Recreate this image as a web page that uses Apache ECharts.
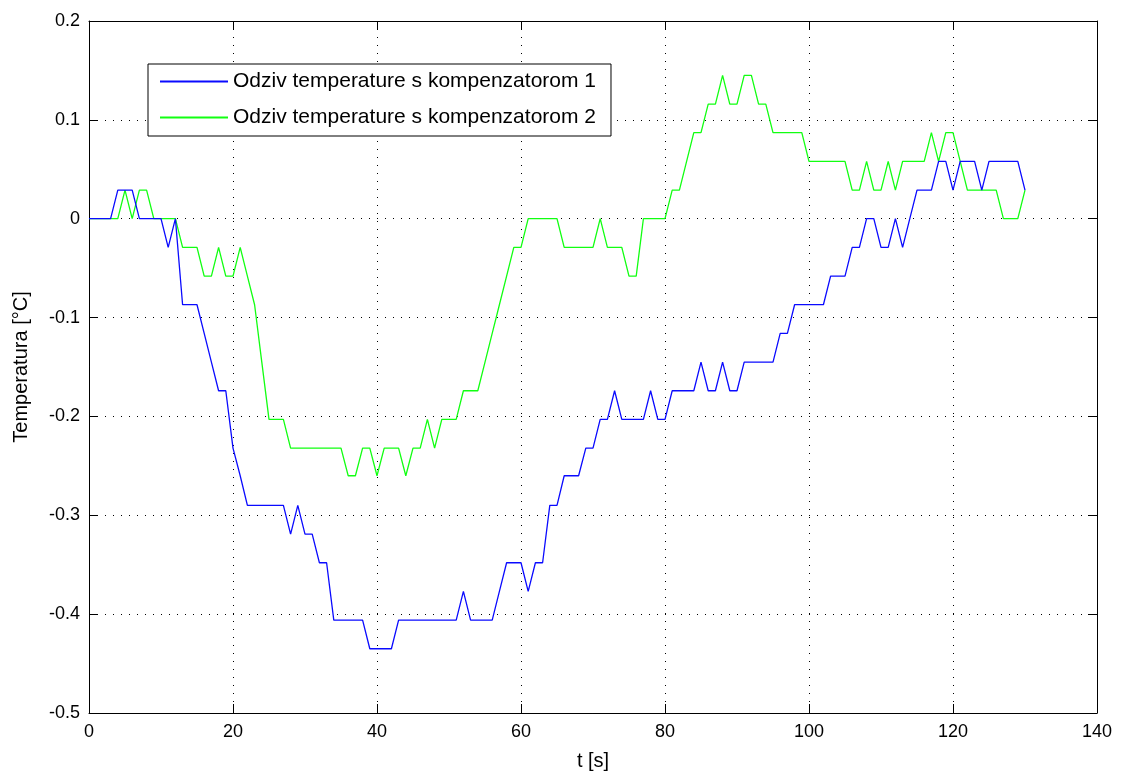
<!DOCTYPE html>
<html>
<head>
<meta charset="utf-8">
<script src="https://cdn.jsdelivr.net/npm/echarts@6/dist/echarts.min.js"></script>
<style>html,body{margin:0;padding:0;background:#fff;}#c{width:1123px;height:776px;}</style>
</head>
<body>
<div id="c"></div>
<script>
const timeS = [0,1,2,3,4,5,6,7,8,9,10,11,12,13,14,15,16,17,18,19,20,21,22,23,24,25,26,27,28,29,30,31,32,33,34,35,36,37,38,39,40,41,42,43,44,45,46,47,48,49,50,51,52,53,54,55,56,57,58,59,60,61,62,63,64,65,66,67,68,69,70,71,72,73,74,75,76,77,78,79,80,81,82,83,84,85,86,87,88,89,90,91,92,93,94,95,96,97,98,99,100,101,102,103,104,105,106,107,108,109,110,111,112,113,114,115,116,117,118,119,120,121,122,123,124,125,126,127,128,129,130];

const komp1 = [0,0,0,0,0.029,0.029,0.029,0,0,0,0,-0.029,0,-0.087,-0.087,-0.087,-0.116,-0.145,-0.174,-0.174,
  -0.232,-0.26,-0.29,-0.29,-0.29,-0.29,-0.29,-0.29,-0.319,-0.29,-0.319,-0.319,-0.348,-0.348,-0.406,-0.406,-0.406,-0.406,-0.406,-0.435,
  -0.435,-0.435,-0.435,-0.406,-0.406,-0.406,-0.406,-0.406,-0.406,-0.406,-0.406,-0.406,-0.377,-0.406,-0.406,-0.406,-0.406,-0.377,-0.348,-0.348,
  -0.348,-0.377,-0.348,-0.348,-0.29,-0.29,-0.26,-0.26,-0.26,-0.232,-0.232,-0.203,-0.203,-0.174,-0.203,-0.203,-0.203,-0.203,-0.174,-0.203,
  -0.203,-0.174,-0.174,-0.174,-0.174,-0.145,-0.174,-0.174,-0.145,-0.174,-0.174,-0.145,-0.145,-0.145,-0.145,-0.145,-0.116,-0.116,-0.087,-0.087,
  -0.087,-0.087,-0.087,-0.058,-0.058,-0.058,-0.029,-0.029,0,0,-0.029,-0.029,0,-0.029,0,0.029,0.029,0.029,0.058,0.058,
  0.029,0.058,0.058,0.058,0.029,0.058,0.058,0.058,0.058,0.058,0.029];

const komp2 = [0,0,0,0,0,0.029,0,0.029,0.029,0,0,0,0,-0.029,-0.029,-0.029,-0.058,-0.058,-0.029,-0.058,
  -0.058,-0.029,-0.058,-0.087,-0.145,-0.203,-0.203,-0.203,-0.232,-0.232,-0.232,-0.232,-0.232,-0.232,-0.232,-0.232,-0.26,-0.26,-0.232,-0.232,
  -0.26,-0.232,-0.232,-0.232,-0.26,-0.232,-0.232,-0.203,-0.232,-0.203,-0.203,-0.203,-0.174,-0.174,-0.174,-0.145,-0.116,-0.087,-0.058,-0.029,
  -0.029,0,0,0,0,0,-0.029,-0.029,-0.029,-0.029,-0.029,0,-0.029,-0.029,-0.029,-0.058,-0.058,0,0,0,
  0,0.029,0.029,0.058,0.087,0.087,0.116,0.116,0.145,0.116,0.116,0.145,0.145,0.116,0.116,0.087,0.087,0.087,0.087,0.087,
  0.058,0.058,0.058,0.058,0.058,0.058,0.029,0.029,0.058,0.029,0.029,0.058,0.029,0.058,0.058,0.058,0.058,0.087,0.058,0.087,
  0.087,0.058,0.029,0.029,0.029,0.029,0.029,0,0,0,0.029];

const seriesNames = ['Odziv temperature s kompenzatorom 1', 'Odziv temperature s kompenzatorom 2'];
const seriesColors = ['#0a0aff', '#11ff11'];
const xTitle = 't [s]';
const yTitle = 'Temperatura [°C]';

const font = 'Liberation Sans, Arial, Helvetica, sans-serif';
const pairs = vals => vals.map((v, i) => [timeS[i], v]);

const gridLine = { show: true, lineStyle: { color: '#000', type: [1, 7], width: 1 } };
const axLine = { show: true, onZero: false, lineStyle: { color: '#000', width: 1 } };
const tick = { show: true, inside: true, length: 9, lineStyle: { color: '#000' } };

const chart = echarts.init(document.getElementById('c'), null, { renderer: 'canvas' });
chart.setOption({
  animation: false,
  backgroundColor: '#fff',
  grid: { left: 89, right: 26, top: 21, bottom: 62, containLabel: false },
  legend: {
    orient: 'vertical', left: 148, top: 64,
    backgroundColor: '#fff', borderColor: '#000', borderWidth: 1, borderRadius: 0,
    padding: [7, 15, 8, 12], itemGap: 15, itemWidth: 68, itemHeight: 2, icon: 'rect',
    textStyle: { fontFamily: font, fontSize: 21, color: '#000' },
    data: seriesNames
  },
  xAxis: [
    { type: 'value', min: 0, max: 140, interval: 20, position: 'bottom',
      axisLine: axLine, axisTick: tick, splitLine: gridLine,
      axisLabel: { color: '#000', fontFamily: font, fontSize: 18, margin: 10 },
      name: xTitle, nameLocation: 'middle', nameGap: 38,
      nameTextStyle: { color: '#000', fontFamily: font, fontSize: 20 } },
    { type: 'value', min: 0, max: 140, interval: 20, position: 'top',
      axisLine: axLine, axisTick: tick, splitLine: { show: false }, axisLabel: { show: false } }
  ],
  yAxis: [
    { type: 'value', min: -0.5, max: 0.2, interval: 0.1, position: 'left',
      axisLine: axLine, axisTick: tick, splitLine: gridLine,
      axisLabel: { color: '#000', fontFamily: font, fontSize: 18, margin: 9 },
      name: yTitle, nameLocation: 'middle', nameGap: 58, nameRotate: 90,
      nameTextStyle: { color: '#000', fontFamily: font, fontSize: 20 } },
    { type: 'value', min: -0.5, max: 0.2, interval: 0.1, position: 'right',
      axisLine: axLine, axisTick: tick, splitLine: { show: false }, axisLabel: { show: false } }
  ],
  series: [
    { name: seriesNames[0], type: 'line', data: pairs(komp1), showSymbol: false, symbol: 'none',
      color: seriesColors[0], lineStyle: { color: seriesColors[0], width: 1.3 }, z: 3 },
    { name: seriesNames[1], type: 'line', data: pairs(komp2), showSymbol: false, symbol: 'none',
      color: seriesColors[1], lineStyle: { color: seriesColors[1], width: 1.3 }, z: 2 }
  ]
});
</script>
</body>
</html>
